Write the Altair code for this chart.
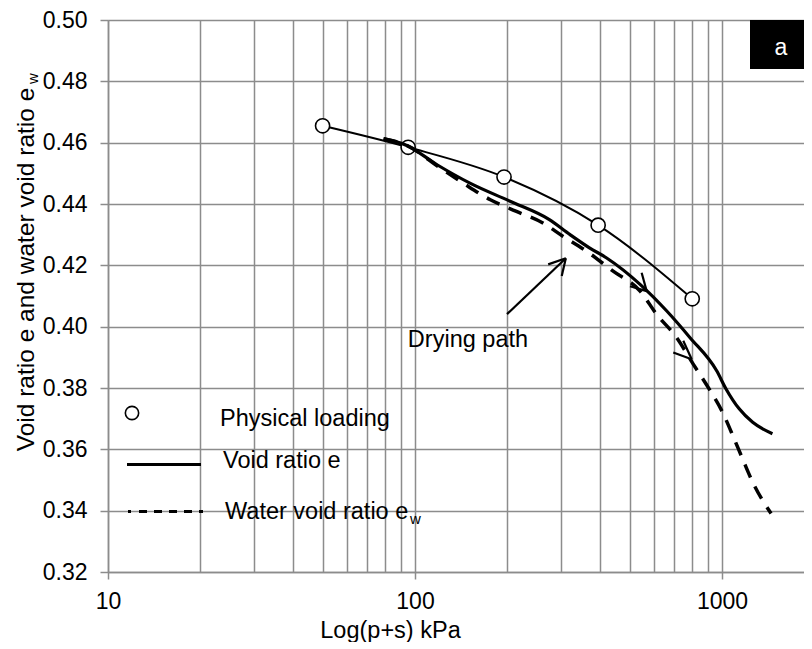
import altair as alt
import pandas as pd

FONT = "Liberation Sans"
GRID = "#8c8c8c"

# ---------------- data ----------------
# Physical loading (open circles joined by a thin line)
load_p = [50, 95, 195, 395, 800]
load_e = [0.4655, 0.4585, 0.4488, 0.4331, 0.4091]

# Void ratio e (thick solid line)
e_p = [79, 94, 118, 151, 204, 274, 320, 370, 421, 541, 661, 787, 961, 1031, 1138, 1259, 1460]
e_val = [0.4613, 0.4591, 0.4528, 0.4468, 0.4409, 0.4349, 0.4300, 0.4257, 0.4224,
         0.4138, 0.4051, 0.3964, 0.3856, 0.3797, 0.3732, 0.3688, 0.3651]

# Water void ratio ew (thick dashed line)
ew_p = [79, 94, 121, 146, 176, 214, 261, 303, 362, 442, 541, 613, 711, 806, 908,
        1004, 1096, 1167, 1259, 1445]
ew_val = [0.4613, 0.4591, 0.4517, 0.4463, 0.4414, 0.4376, 0.4338, 0.4295, 0.4246,
          0.4181, 0.4116, 0.4040, 0.3965, 0.3878, 0.3797, 0.3721, 0.3634, 0.3569,
          0.3493, 0.3391]

# axis tick values
grid_x = [10, 20, 30, 40, 50, 60, 70, 80, 90, 100, 200, 300, 400, 500, 600, 700, 800, 900, 1000]
grid_y = [0.32, 0.34, 0.36, 0.38, 0.40, 0.42, 0.44, 0.46, 0.48, 0.50]

# annotation segments (drying-path arrow and direction chevrons), data coords
seg_x1 = [199.4, 271.6, 300.6, 501.5, 547.4, 693.9, 748.0]
seg_y1 = [0.4041, 0.4203, 0.4165, 0.4132, 0.4176, 0.3916, 0.3954]
seg_x2 = [310.0, 310.0, 310.0, 568.5, 568.5, 796.7, 796.7]
seg_y2 = [0.4223, 0.4223, 0.4223, 0.4116, 0.4116, 0.3894, 0.3894]

note_text = ["Drying path"]
note_x = [94.8]
note_y = [0.3935]

legend_labels = ["Physical loading", "Void ratio e", "Water void ratio e"]
panel_label = ["a"]

# ---------------- scales / axes ----------------
majors = "datum.value==10||datum.value==100||datum.value==1000"
xscale = alt.Scale(type="log", domain=[10, 1850], nice=False)
yscale = alt.Scale(domain=[0.32, 0.50], nice=False, zero=False)

xaxis = alt.Axis(
    values=grid_x, format="d",
    labelExpr=f"({majors}) ? datum.label : ''",
    labelOverlap=False, labelFlush=False,
    tickOpacity={"condition": {"test": majors, "value": 1}, "value": 0},
    tickSize=7, tickColor=GRID, tickWidth=1.5,
    labelPadding=11, labelFontSize=23, labelFont=FONT, labelColor="black",
    title="Log(p+s) kPa", titleFontSize=23.5, titleFont=FONT, titleFontWeight="normal",
    titleColor="black", titleX=282, titleY=65, titleBaseline="alphabetic", titleAlign="center",
    grid=True, gridColor=GRID, gridWidth=1.5, domainColor=GRID, domainWidth=1.5,
)
yaxis = alt.Axis(
    values=grid_y, format=".2f",
    tickSize=8, tickColor=GRID, tickWidth=1.5,
    labelPadding=13, labelFontSize=23, labelFont=FONT, labelColor="black",
    title="Void ratio e and water void ratio e", titleFontSize=24.5, titleFont=FONT,
    titleFontWeight="normal", titleColor="black", titleAngle=270,
    titleX=-75, titleY=249, titleBaseline="alphabetic", titleAlign="center",
    grid=True, gridColor=GRID, gridWidth=1.5, domainColor=GRID, domainWidth=1.5,
)

X = alt.X("x:Q", scale=xscale, axis=xaxis)
Y = alt.Y("y:Q", scale=yscale, axis=yaxis)

load_df = pd.DataFrame({"x": load_p, "y": load_e})
e_df = pd.DataFrame({"x": e_p, "y": e_val})
ew_df = pd.DataFrame({"x": ew_p, "y": ew_val})
seg_df = pd.DataFrame({"x": seg_x1, "y": seg_y1, "x2": seg_x2, "y2": seg_y2})
note_df = pd.DataFrame({"x": note_x, "y": note_y, "t": note_text})

thin = alt.Chart(load_df).mark_line(color="black", strokeWidth=2, interpolate="monotone").encode(x=X, y=Y)
solid = alt.Chart(e_df).mark_line(color="black", strokeWidth=3.2, interpolate="monotone").encode(x=X, y=Y)
dashed = alt.Chart(ew_df).mark_line(color="black", strokeWidth=3.5, strokeDash=[14, 10],
                                    interpolate="monotone").encode(x=X, y=Y)
circles = alt.Chart(load_df).mark_point(shape="circle", filled=True, fill="white", stroke="black",
                                        strokeWidth=1.6, size=200, opacity=1).encode(x=X, y=Y)
segs = alt.Chart(seg_df).mark_rule(color="black", strokeWidth=2.2).encode(
    x=X, y=Y, x2="x2:Q", y2="y2:Q")
note = alt.Chart(note_df).mark_text(font=FONT, fontSize=23.5, align="left", baseline="alphabetic",
                                    color="black").encode(x=X, y=Y, text="t:N")

# ---------------- in-plot legend ----------------
def one(label):
    return pd.DataFrame({"t": [label]})

leg_circle = alt.Chart(one("c")).mark_point(shape="circle", filled=True, fill="white", stroke="black",
                                            strokeWidth=1.6, size=177, opacity=1).encode(
    x=alt.value(24), y=alt.value(393))
leg_solid = alt.Chart(one("s")).mark_rule(color="black", strokeWidth=3).encode(
    x=alt.value(19), x2=alt.value(93), y=alt.value(444.5))
leg_dash = alt.Chart(one("d")).mark_rule(color="black", strokeWidth=3, strokeDash=[3, 8, 8, 7, 8, 7, 8, 7, 8, 7, 8, 7]).encode(
    x=alt.value(20), x2=alt.value(95), y=alt.value(491.5))
leg_t1 = alt.Chart(one(legend_labels[0])).mark_text(font=FONT, fontSize=23.5, align="left",
                                                   baseline="alphabetic", color="black").encode(
    x=alt.value(112), y=alt.value(406), text="t:N")
leg_t2 = alt.Chart(one(legend_labels[1])).mark_text(font=FONT, fontSize=23.5, align="left",
                                                   baseline="alphabetic", color="black").encode(
    x=alt.value(115), y=alt.value(448), text="t:N")
leg_t3 = alt.Chart(one(legend_labels[2])).mark_text(font=FONT, fontSize=23.5, align="left",
                                                   baseline="alphabetic", color="black").encode(
    x=alt.value(117), y=alt.value(499), text="t:N")
leg_sub = alt.Chart(one("w")).mark_text(font=FONT, fontSize=15, align="left",
                                        baseline="alphabetic", color="black").encode(
    x=alt.value(302), y=alt.value(504), text="t:N")
title_sub = alt.Chart(one("w")).mark_text(font=FONT, fontSize=15, align="center", angle=270,
                                          baseline="middle", color="black").encode(
    x=alt.value(-75.5), y=alt.value(58.5), text="t:N")

# panel label box
box = alt.Chart(one("box")).mark_rect(color="black").encode(
    x=alt.value(642), x2=alt.value(696), y=alt.value(0), y2=alt.value(49))
box_t = alt.Chart(one(panel_label[0])).mark_text(font=FONT, fontSize=23, align="center",
                                                baseline="alphabetic", color="white").encode(
    x=alt.value(673), y=alt.value(35), text="t:N")

chart = alt.layer(
    thin, circles, solid, dashed, segs, note,
    leg_circle, leg_solid, leg_dash, leg_t1, leg_t2, leg_t3, leg_sub, title_sub,
    box, box_t,
).properties(
    width=696, height=552,
    padding={"left": 100, "top": 12, "right": 0, "bottom": 70},
    autosize=alt.AutoSizeParams(type="none"),
).configure_view(stroke=None).configure(background="white")

chart.save("out.html", embed_options={"renderer": "svg", "actions": False})
